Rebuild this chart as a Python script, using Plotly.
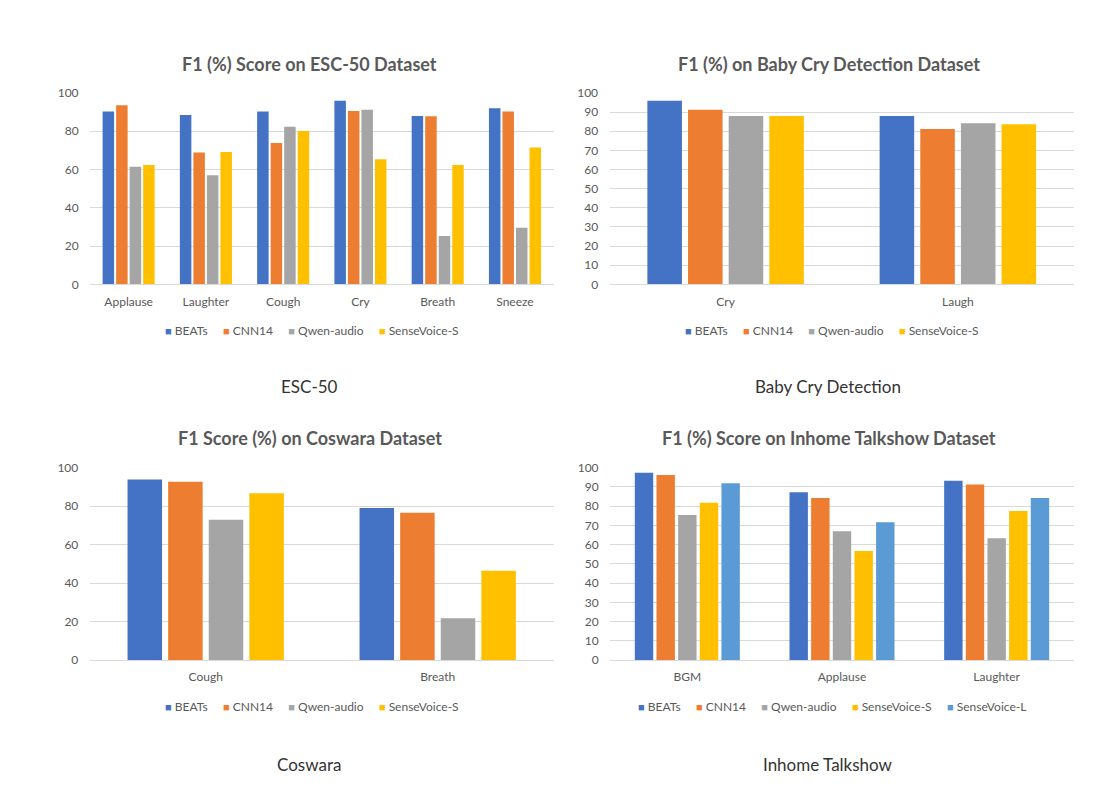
import plotly.graph_objects as go

W, H = 1114, 794

models = ["BEATs", "CNN14", "Qwen-audio", "SenseVoice-S", "SenseVoice-L"]
colors = ["#4472C4", "#ED7D31", "#A5A5A5", "#FFC000", "#5B9BD5"]

# ESC-50
esc_cats = ["Applause", "Laughter", "Cough", "Cry", "Breath", "Sneeze"]
esc_beats = [90.3, 88.5, 90.3, 96.0, 88.0, 92.0]
esc_cnn14 = [93.6, 68.9, 73.9, 90.6, 87.8, 90.3]
esc_qwen = [61.4, 57.0, 82.3, 91.3, 25.2, 29.6]
esc_svs = [62.4, 69.2, 80.2, 65.4, 62.4, 71.5]

# Baby Cry Detection
baby_cats = ["Cry", "Laugh"]
baby_beats = [96.0, 88.0]
baby_cnn14 = [91.3, 81.2]
baby_qwen = [88.0, 84.2]
baby_svs = [88.0, 83.7]

# Coswara
cos_cats = ["Cough", "Breath"]
cos_beats = [93.9, 79.0]
cos_cnn14 = [92.7, 76.6]
cos_qwen = [72.9, 21.7]
cos_svs = [86.7, 46.4]

# Inhome Talkshow
inh_cats = ["BGM", "Applause", "Laughter"]
inh_beats = [97.4, 87.2, 93.2]
inh_cnn14 = [96.2, 84.2, 91.2]
inh_qwen = [75.4, 66.9, 63.3]
inh_svs = [81.8, 56.7, 77.5]
inh_svl = [91.9, 71.6, 84.2]

panels = [
    dict(title="F1 (%) Score on ESC-50 Dataset", cats=esc_cats,
         series=[esc_beats, esc_cnn14, esc_qwen, esc_svs], dtick=20,
         x0=90, x1=553.6, ytop=93.0, ybot=284.3, tx=309, ty=64,
         lx=311.7, ly=330, caption="ESC-50", cx=309, cy=386),
    dict(title="F1 (%) on Baby Cry Detection Dataset", cats=baby_cats,
         series=[baby_beats, baby_cnn14, baby_qwen, baby_svs], dtick=10,
         x0=609.5, x1=1074, ytop=93.0, ybot=284.3, tx=829, ty=64,
         lx=831.7, ly=330, caption="Baby Cry Detection", cx=828, cy=386),
    dict(title="F1 Score (%) on Coswara Dataset", cats=cos_cats,
         series=[cos_beats, cos_cnn14, cos_qwen, cos_svs], dtick=20,
         x0=89.7, x1=553.7, ytop=467.7, ybot=660, tx=309.7, ty=438,
         lx=311.7, ly=706, caption="Coswara", cx=309, cy=764),
    dict(title="F1 (%) Score on Inhome Talkshow Dataset", cats=inh_cats,
         series=[inh_beats, inh_cnn14, inh_qwen, inh_svs, inh_svl], dtick=10,
         x0=610, x1=1074, ytop=467.7, ybot=660, tx=829, ty=438,
         lx=832, ly=706, caption="Inhome Talkshow", cx=828, cy=764),
]

FONT = "Lato"
GRAY = "#595959"
NB = "\u00a0"


def yfrac(ypx):
    return 1 - ypx / H


fig = go.Figure()
annotations = []
layout_extra = {}

for i, p in enumerate(panels):
    n = i + 1
    xa = "x" if n == 1 else f"x{n}"
    ya = "y" if n == 1 else f"y{n}"
    for k, vals in enumerate(p["series"]):
        fig.add_trace(go.Bar(
            x=p["cats"], y=vals, name=models[k], marker_color=colors[k],
            marker_line_width=0, xaxis=xa, yaxis=ya, showlegend=False,
            hoverinfo="x+y+name",
        ))
    xkey = "xaxis" if n == 1 else f"xaxis{n}"
    ykey = "yaxis" if n == 1 else f"yaxis{n}"
    layout_extra[xkey] = dict(
        domain=[p["x0"] / W, p["x1"] / W], anchor=ya,
        showgrid=False, showline=True, linecolor="#D9D9D9", linewidth=1,
        ticks="outside", ticklen=6, tickcolor="rgba(0,0,0,0)",
        tickfont=dict(family=FONT, size=12, color=GRAY), fixedrange=True,
        automargin=False,
    )
    layout_extra[ykey] = dict(
        domain=[yfrac(p["ybot"]), yfrac(p["ytop"])], anchor=xa,
        range=[0, 100], dtick=p["dtick"], tick0=0,
        showgrid=True, gridcolor="#D9D9D9", gridwidth=1,
        zeroline=False, showline=False,
        ticks="outside", ticklen=8, tickcolor="rgba(0,0,0,0)",
        tickfont=dict(family=FONT, size=12, color=GRAY), fixedrange=True,
        automargin=False,
    )
    # legend row (Excel style: small square right next to the label)
    items = []
    for k in range(len(p["series"])):
        items.append(
            f'<span style="color:{colors[k]};font-size:11px">■</span>'
            f'{NB}{models[k]}'
        )
    annotations.append(dict(
        text=(NB * 5).join(items), x=p["lx"] / W, y=yfrac(p["ly"]),
        xref="paper", yref="paper", xanchor="center", yanchor="middle",
        showarrow=False, font=dict(family=FONT, size=12, color=GRAY),
    ))
    annotations.append(dict(
        text=f"<b>{p['title']}</b>", x=p["tx"] / W, y=yfrac(p["ty"]),
        xref="paper", yref="paper", xanchor="center", yanchor="middle",
        showarrow=False, font=dict(family=FONT, size=18, color=GRAY),
    ))
    annotations.append(dict(
        text=p["caption"], x=p["cx"] / W, y=yfrac(p["cy"]),
        xref="paper", yref="paper", xanchor="center", yanchor="middle",
        showarrow=False, font=dict(family=FONT, size=17, color="#333333"),
    ))

fig.update_layout(
    width=W, height=H, margin=dict(l=0, r=0, t=0, b=0),
    paper_bgcolor="white", plot_bgcolor="white",
    barmode="group", bargap=0.3, bargroupgap=0.15, showlegend=False,
    annotations=annotations, **layout_extra,
)

fig.write_html(
    "out.html",
    config={"displayModeBar": False},
    post_script="document.body.style.margin='0';document.body.style.padding='0';",
)
